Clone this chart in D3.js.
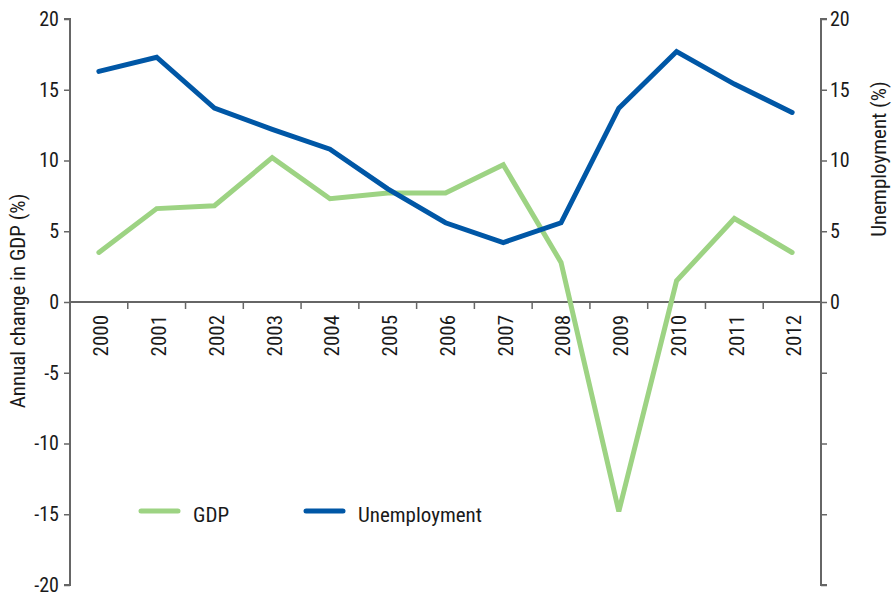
<!DOCTYPE html>
<html>
<head>
<meta charset="utf-8">
<script src="https://cdn.jsdelivr.net/npm/d3@7"></script>
<style>
  html, body { margin: 0; padding: 0; background: #fff; }
  svg text { font-family: "Liberation Sans Narrow", "Arial Narrow", "Roboto Condensed", "Liberation Sans", sans-serif; fill: #1a1a1a; }
</style>
</head>
<body>
<svg id="chart" width="894" height="592"></svg>
<script>
const years = ["2000","2001","2002","2003","2004","2005","2006","2007","2008","2009","2010","2011","2012"];
const gdp = [3.5, 6.6, 6.8, 10.2, 7.3, 7.7, 7.7, 9.7, 2.8, -14.8, 1.5, 5.9, 3.5];
const unemployment = [16.3, 17.3, 13.7, 12.2, 10.8, 8.0, 5.6, 4.2, 5.6, 13.7, 17.7, 15.4, 13.4];
const leftTicks = [-20, -15, -10, -5, 0, 5, 10, 15, 20];
const rightTickLabels = [0, 5, 10, 15, 20];
const seriesNames = ["GDP", "Unemployment"];
const colors = ["#9dd383", "#0057a6"];

const svg = d3.select("#chart");
const L = 70, R = 821, T = 19, B = 585;
const x = d3.scaleBand().domain(years).range([L, R]);
const y = d3.scaleLinear().domain([-20, 20]).range([B, T]);
const axisColor = "#666";

// left axis
const gl = svg.append("g").attr("transform", `translate(${L},0)`)
  .call(d3.axisLeft(y).tickValues(leftTicks).tickSize(6).tickPadding(5).tickFormat(d => String(d)));
// right axis
const gr = svg.append("g").attr("transform", `translate(${R},0)`)
  .call(d3.axisRight(y).tickValues(leftTicks).tickSize(6).tickPadding(3)
    .tickFormat(d => rightTickLabels.includes(d) ? String(d) : ""));
// x axis at zero
const gx = svg.append("g").attr("transform", `translate(0,${y(0)})`)
  .call(d3.axisBottom(x).tickSize(0).tickPadding(0));
// boundary ticks
gx.selectAll(".bt").data(years.slice(1)).enter().append("line")
  .attr("x1", d => x(d)).attr("x2", d => x(d)).attr("y1", 0).attr("y2", 7)
  .attr("stroke", axisColor).attr("stroke-width", 1.5);

[gl, gr, gx].forEach(g => {
  g.select(".domain").attr("stroke", axisColor).attr("stroke-width", 2);
  g.selectAll(".tick line").attr("stroke", axisColor).attr("stroke-width", 1.5);
  g.selectAll(".tick text").attr("font-size", 20).attr("fill", "#1a1a1a");
});
gl.select(".domain").attr("d", `M-6,${T}H0V${B}H-6`);
gr.select(".domain").attr("d", `M6,${T}H0V${B}H6`);
gx.select(".domain").attr("d", `M${L},0H${R}`);

gx.selectAll(".tick text")
  .attr("font-size", 21)
  .attr("transform", "rotate(-90)")
  .attr("text-anchor", "end")
  .attr("x", -13)
  .attr("y", 2)
  .attr("dy", "0.35em");

// axis titles
svg.append("text").attr("transform", `translate(25,301) rotate(-90)`)
  .attr("text-anchor", "middle").attr("font-size", 21).text("Annual change in GDP (%)");
svg.append("text").attr("transform", `translate(886,159) rotate(-90)`)
  .attr("text-anchor", "middle").attr("font-size", 21).text("Unemployment (%)");

// lines
const line = d3.line().x((d, i) => x(years[i]) + x.bandwidth() / 2).y(d => y(d));
[gdp, unemployment].forEach((s, k) => {
  svg.append("path").datum(s).attr("d", line)
    .attr("fill", "none").attr("stroke", colors[k]).attr("stroke-width", 5)
    .attr("stroke-linejoin", "miter").attr("stroke-linecap", "round");
});

// legend
const legendX = [141, 306];
seriesNames.forEach((n, k) => {
  const g = svg.append("g").attr("transform", `translate(${legendX[k]},511)`);
  g.append("line").attr("x1", 0).attr("x2", 37).attr("y1", 0).attr("y2", 0)
    .attr("stroke", colors[k]).attr("stroke-width", 5).attr("stroke-linecap", "round");
  g.append("text").attr("x", 52).attr("y", 10.5).attr("font-size", 21).text(n);
});
</script>
</body>
</html>
